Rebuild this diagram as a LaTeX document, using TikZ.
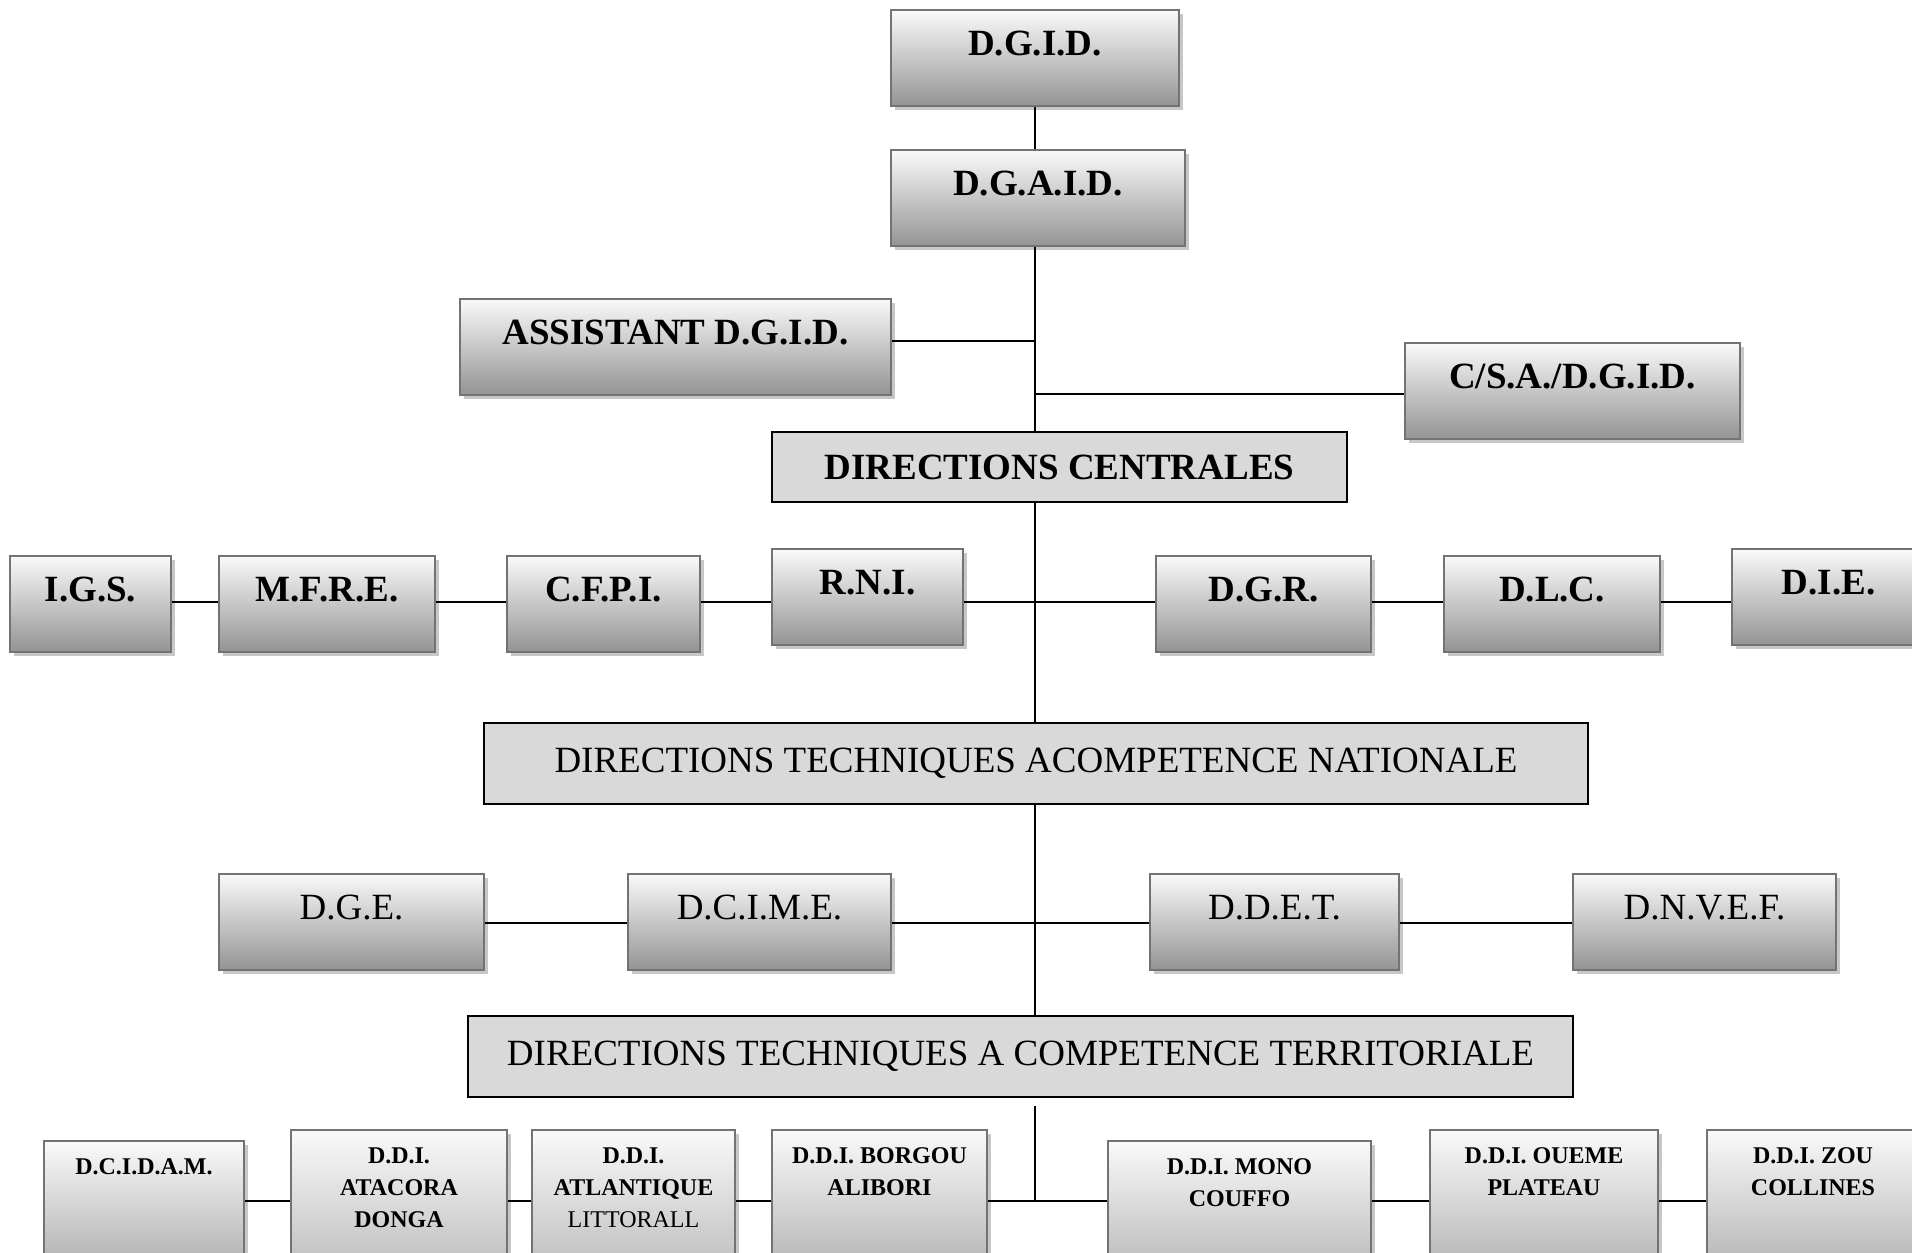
\documentclass[tikz,border=0pt]{standalone}
\usepackage{fontspec}
\setmainfont{Liberation Serif}
\usetikzlibrary{shadows}

\begin{document}
\begin{tikzpicture}[x=0.5pt,y=-0.5pt,line width=1pt]
   \tikzstyle{dirbox}=[draw=black!55,line width=1pt,top color=black!2,bottom color=black!42,drop shadow={shadow xshift=2pt,shadow yshift=-2pt,fill=black!22,opacity=1},inner sep=0pt,text height=22.8pt,text depth=25.2pt,font=\bfseries\fontsize{18.5}{22}\selectfont]
   \tikzstyle{plainbox}=[dirbox,font=\fontsize{18.5}{22}\selectfont]
   \tikzstyle{ddibox}=[dirbox,anchor=north,align=center,text height=16.5pt,text depth=70pt,font=\bfseries\fontsize{12}{16}\selectfont]
   \tikzstyle{twolines}=[text height=32.5pt]
   \tikzstyle{threelines}=[text height=48.5pt]
   \tikzstyle{levelbox}=[draw=black,line width=0.7pt,fill=black!15,inner sep=0pt,font=\fontsize{18.5}{22}\selectfont]
   \useasboundingbox (0,0) rectangle (1912,1253);

   % top of the chart
   \node[dirbox,minimum width=144pt]   (dgid)    at (1035,58)      {D.G.I.D.};
   \node[dirbox,minimum width=147pt]   (dgaid)   at (1038,198)     {D.G.A.I.D.};
   \node[dirbox,minimum width=215.5pt] (assist)  at (675.5,346.5)  {ASSISTANT D.G.I.D.};
   \node[dirbox,minimum width=167.5pt] (csa)     at (1572.5,390.5) {C/S.A./D.G.I.D.};
   \node[levelbox,minimum width=287.5pt,minimum height=35pt,font=\bfseries\fontsize{18.5}{22}\selectfont] (centrales) at (1059.5,467) {DIRECTIONS CENTRALES};

   % directions centrales
   \node[dirbox,minimum width=80.5pt]  (igs)   at (90.5,603.5)   {I.G.S.};
   \node[dirbox,minimum width=108pt]   (mfre)  at (327,603.5)    {M.F.R.E.};
   \node[dirbox,minimum width=96.5pt]  (cfpi)  at (603.5,603.5)  {C.F.P.I.};
   \node[dirbox,minimum width=95.5pt]  (rni)   at (867.5,597)    {R.N.I.};
   \node[dirbox,minimum width=107.5pt] (dgr)   at (1263.5,603.5) {D.G.R.};
   \node[dirbox,minimum width=108pt]   (dlc)   at (1552,603.5)   {D.L.C.};
   \node[dirbox,minimum width=96.5pt]  (die)   at (1828.5,597)   {D.I.E.};

   \node[levelbox,minimum width=552pt,minimum height=40.5pt] (nationale) at (1036,763.5) {DIRECTIONS TECHNIQUES ACOMPETENCE NATIONALE};

   % competence nationale
   \node[plainbox,minimum width=132.5pt] (dge)   at (351.5,921.5)  {D.G.E.};
   \node[plainbox,minimum width=131.5pt] (dcime) at (759.5,921.5)  {D.C.I.M.E.};
   \node[plainbox,minimum width=124.5pt] (ddet)  at (1274.5,921.5) {D.D.E.T.};
   \node[plainbox,minimum width=131.5pt] (dnvef) at (1704.5,921.5) {D.N.V.E.F.};

   \node[levelbox,minimum width=552.5pt,minimum height=40.5pt] (territoriale) at (1020.5,1056.5) {DIRECTIONS TECHNIQUES A COMPETENCE TERRITORIALE};

   % competence territoriale
   \node[ddibox,minimum width=100pt]              (dcidam)     at (144,1140)    {D.C.I.D.A.M.};
   \node[ddibox,threelines,minimum width=108pt]   (atacora)    at (399,1129)    {D.D.I.\\ATACORA\\DONGA};
   \node[ddibox,threelines,minimum width=101.5pt] (atlantique) at (633.5,1129)  {D.D.I.\\ATLANTIQUE\\{\mdseries LITTORALL}};
   \node[ddibox,twolines,minimum width=107.5pt]   (borgou)     at (879.5,1129)  {D.D.I. BORGOU\\ALIBORI};
   \node[ddibox,twolines,minimum width=131.5pt]   (mono)       at (1239.5,1140) {D.D.I. MONO\\COUFFO};
   \node[ddibox,twolines,minimum width=114pt]     (oueme)      at (1544,1129)   {D.D.I. OUEME\\PLATEAU};
   \node[ddibox,twolines,minimum width=106pt]     (zou)        at (1813,1129)   {D.D.I. ZOU\\COLLINES};

   \coordinate (assistrow) at (1035,341);
   \coordinate (csarow)    at (1035,394);
   \coordinate (row1)      at (1035,602);
   \coordinate (row2)      at (1035,923);
   \coordinate (row3)      at (1035,1201);

   \path[draw]
     (dgid.south -| row1)          edge  (dgaid.north -| row1)
     (dgaid.south -| row1)         edge  (centrales.north -| row1)
     (assist.east |- assistrow)    edge  (assistrow)
     (csarow)                      edge  (csa.west |- csarow)
     (centrales.south -| row1)     edge  (nationale.north -| row1)
     (igs.east |- row1)            edge  (mfre.west |- row1)
     (mfre.east |- row1)           edge  (cfpi.west |- row1)
     (cfpi.east |- row1)           edge  (rni.west |- row1)
     (rni.east |- row1)            edge  (dgr.west |- row1)
     (dgr.east |- row1)            edge  (dlc.west |- row1)
     (dlc.east |- row1)            edge  (die.west |- row1)
     (nationale.south -| row2)     edge  (territoriale.north -| row2)
     (dge.east |- row2)            edge  (dcime.west |- row2)
     (dcime.east |- row2)          edge  (ddet.west |- row2)
     (ddet.east |- row2)           edge  (dnvef.west |- row2)
     (1035,1106)                   edge  (row3)
     (dcidam.east |- row3)         edge  (atacora.west |- row3)
     (atacora.east |- row3)        edge  (atlantique.west |- row3)
     (atlantique.east |- row3)     edge  (borgou.west |- row3)
     (borgou.east |- row3)         edge  (mono.west |- row3)
     (mono.east |- row3)           edge  (oueme.west |- row3)
     (oueme.east |- row3)          edge  (zou.west |- row3);
\end{tikzpicture}
\end{document}
